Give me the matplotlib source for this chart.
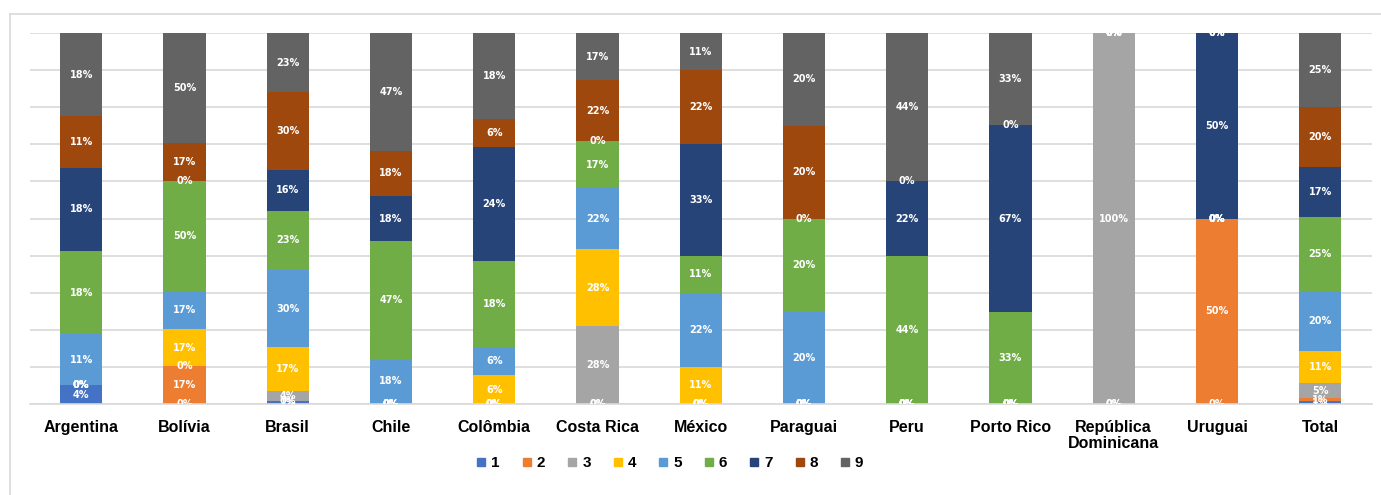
import numpy as np
import matplotlib.pyplot as plt
from matplotlib.lines import Line2D

paises = ["Argentina", "Bolívia", "Brasil", "Chile", "Colômbia", "Costa Rica",
          "México", "Paraguai", "Peru", "Porto Rico", "República\nDominicana",
          "Uruguai", "Total"]
series = ["1", "2", "3", "4", "5", "6", "7", "8", "9"]
cores = ["#4472C4", "#ED7D31", "#A5A5A5", "#FFC000", "#5B9BD5",
         "#70AD47", "#264478", "#9E480E", "#636363"]

# valores (%) por pais, serie 1..9
s1 = [4, 0, 1, 0, 0, 0, 0, 0, 0, 0, 0, 0, 1]
s2 = [0, 17, 0, 0, 0, 0, 0, 0, 0, 0, 0, 50, 1]
s3 = [0, 0, 4, 0, 0, 28, 0, 0, 0, 0, 100, 0, 5]
s4 = [0, 17, 17, 0, 6, 28, 11, 0, 0, 0, 0, 0, 11]
s5 = [11, 17, 30, 18, 6, 22, 22, 20, 0, 0, 0, 0, 20]
s6 = [18, 50, 23, 47, 18, 17, 11, 20, 44, 33, 0, 0, 25]
s7 = [18, 0, 16, 18, 24, 0, 33, 0, 22, 67, 0, 50, 17]
s8 = [11, 17, 30, 18, 6, 22, 22, 20, 0, 0, 0, 0, 20]
s9 = [18, 50, 23, 47, 18, 17, 11, 20, 44, 33, 0, 0, 25]

dados = np.array([s1, s2, s3, s4, s5, s6, s7, s8, s9], dtype=float)
tot = dados.sum(axis=0)
alturas = dados / tot * 100

fig = plt.figure(figsize=(13.81, 4.95), dpi=100)
ax = fig.add_axes([0.0214, 0.1838, 0.972, 0.7495])

x = np.arange(len(paises))
base = np.zeros(len(paises))
for i in range(len(series)):
    ax.bar(x, alturas[i], 0.41, bottom=base, color=cores[i], zorder=2,
           label=series[i])
    for j in range(len(paises)):
        yc = base[j] + alturas[i][j] / 2
        ax.text(x[j], yc, "%d%%" % dados[i][j], ha="center", va="center",
                color="white", fontsize=7, fontweight="bold",
                family="DejaVu Sans", zorder=3, clip_on=True)
    base = base + alturas[i]

ax.set_xlim(-0.5, len(paises) - 0.5)
ax.set_ylim(0, 100)
ax.set_yticks(np.arange(0, 101, 10))
ax.yaxis.grid(True, color="#D9D9D9", linewidth=1.2, zorder=0)
ax.tick_params(axis="y", left=False, labelleft=False)
ax.tick_params(axis="x", bottom=False, pad=8)
ax.set_xticks(x)
ax.set_xticklabels(paises, fontsize=11.5, fontweight="bold",
                   family="Liberation Sans", linespacing=1.1)
for s in ["top", "right", "left"]:
    ax.spines[s].set_visible(False)
ax.spines["bottom"].set_color("#D9D9D9")
ax.spines["bottom"].set_linewidth(1.2)

handles = [Line2D([], [], marker="s", linestyle="none", markersize=6,
                  markerfacecolor=c, markeredgecolor=c) for c in cores]
leg = fig.legend(handles, series, loc="center", bbox_to_anchor=(0.485, 0.064),
                 ncol=9, frameon=False, handlelength=0.7, handletextpad=0.3,
                 columnspacing=1.42,
                 prop={"family": "Liberation Sans", "weight": "bold", "size": 11})

# borda externa do grafico (parcialmente cortada)
fig.add_artist(Line2D([0.0072, 1.0], [0.9717, 0.9717], color="#D9D9D9",
                      linewidth=1.2, transform=fig.transFigure))
fig.add_artist(Line2D([0.0072, 0.0072], [0.0, 0.9717], color="#D9D9D9",
                      linewidth=1.2, transform=fig.transFigure))

fig.savefig("out.png", dpi=100)
